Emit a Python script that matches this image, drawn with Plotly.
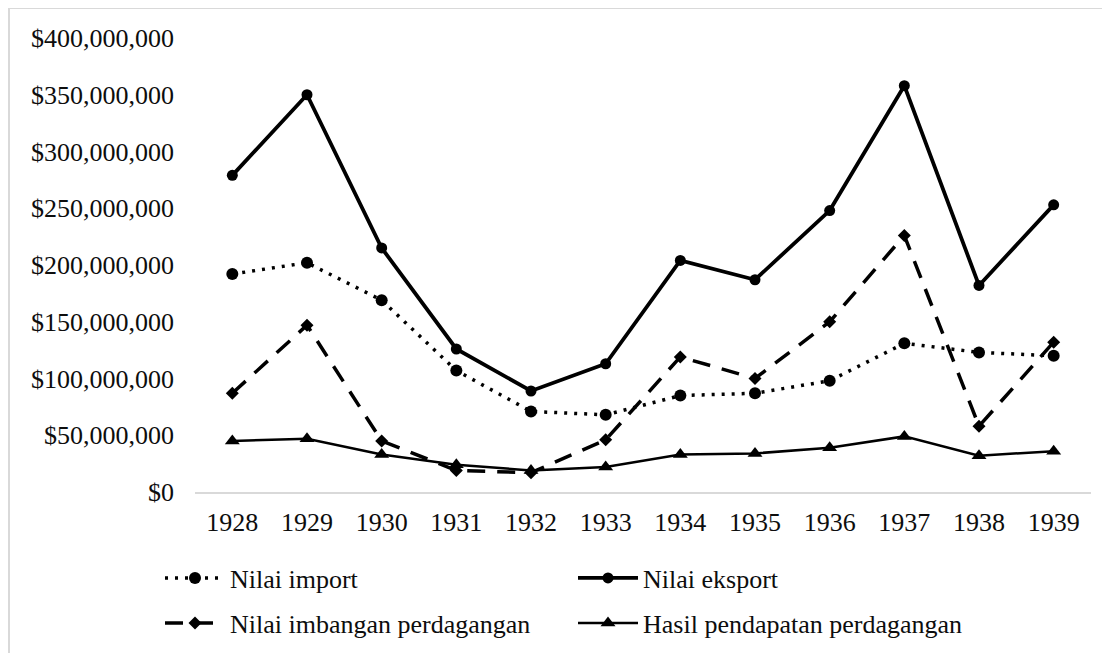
import plotly.graph_objects as go

years = ["1928", "1929", "1930", "1931", "1932", "1933", "1934", "1935", "1936", "1937", "1938", "1939"]
nilai_import = [192e6, 202e6, 169e6, 107e6, 71e6, 68e6, 85e6, 87e6, 98e6, 131e6, 123e6, 120e6]
nilai_eksport = [279e6, 350e6, 215e6, 126e6, 89e6, 113e6, 204e6, 187e6, 248e6, 358e6, 182e6, 253e6]
nilai_imbangan = [87e6, 147e6, 45e6, 19e6, 17e6, 46e6, 119e6, 100e6, 150e6, 226e6, 58e6, 132e6]
hasil_pendapatan = [45e6, 47e6, 33e6, 24e6, 19e6, 22e6, 33e6, 34e6, 39e6, 49e6, 32e6, 36e6]

y_ticks = [0, 50e6, 100e6, 150e6, 200e6, 250e6, 300e6, 350e6, 400e6]
y_tick_labels = ["$0", "$50,000,000", "$100,000,000", "$150,000,000", "$200,000,000",
                 "$250,000,000", "$300,000,000", "$350,000,000", "$400,000,000"]

FONT = "Liberation Serif, Times New Roman, serif"
TXT = "#0d0d0d"
OFF = 8  # page body margin
FW, FH = 1110 - OFF, 653 - OFF
L, T = 195 - OFF, 38 - OFF
R = FW - (1091 - OFF)
B = FH - (492 - OFF)
W, H = FW - L - R, FH - T - B

fig = go.Figure()

fig.add_trace(go.Scatter(
    x=years, y=nilai_import, name="Nilai import", mode="lines+markers",
    line=dict(color="black", width=3.5, dash="3px,7px"),
    marker=dict(symbol="circle", size=12, color="black"), legend="legend"))
fig.add_trace(go.Scatter(
    x=years, y=nilai_eksport, name="Nilai eksport", mode="lines+markers",
    line=dict(color="black", width=3.8),
    marker=dict(symbol="circle", size=11, color="black"), legend="legend"))
fig.add_trace(go.Scatter(
    x=years, y=nilai_imbangan, name="Nilai imbangan perdagangan", mode="lines+markers",
    line=dict(color="black", width=3.5, dash="18px,12px"),
    marker=dict(symbol="diamond", size=10, color="black"), legend="legend2"))
fig.add_trace(go.Scatter(
    x=years, y=hasil_pendapatan, name="Hasil pendapatan perdagangan", mode="lines+markers",
    line=dict(color="black", width=2.5),
    marker=dict(symbol="triangle-up", size=13, color="black"), legend="legend2"))

itemw = 60
legend_common = dict(orientation="h", xanchor="left", yanchor="middle",
                     x=(160 - 195) / W, entrywidth=338, itemwidth=itemw,
                     font=dict(family=FONT, size=26, color=TXT),
                     bgcolor="rgba(0,0,0,0)")

fig.update_layout(
    width=FW, height=FH,
    margin=dict(l=L, r=R, t=T, b=B, autoexpand=False),
    paper_bgcolor="white", plot_bgcolor="white",
    font=dict(family=FONT, size=26, color=TXT),
    showlegend=True,
    legend=dict(**legend_common, y=(492 - 578) / H),
    legend2=dict(**legend_common, y=(492 - 623) / H),
    xaxis=dict(type="category", range=[-0.5, 11.5], showgrid=False, showline=True,
               linecolor="#d9d9d9", linewidth=2, ticks="", ticklabelstandoff=6,
               automargin=False, tickfont=dict(family=FONT, size=26, color=TXT)),
    yaxis=dict(range=[0, 400e6], tickvals=y_ticks, ticktext=y_tick_labels,
               showgrid=False, zeroline=False, showline=False, ticks="",
               ticklabelstandoff=20, automargin=False,
               tickfont=dict(family=FONT, size=26, color=TXT)),
    shapes=[dict(type="rect", xref="paper", yref="paper",
                 x0=(9 - 195) / W, x1=(1140 - 195) / W,
                 y0=-(700 - 492) / H, y1=1 + 30 / H,
                 line=dict(color="#d9d9d9", width=2), fillcolor="rgba(0,0,0,0)",
                 layer="below")],
)

fig.write_html("out.html")
